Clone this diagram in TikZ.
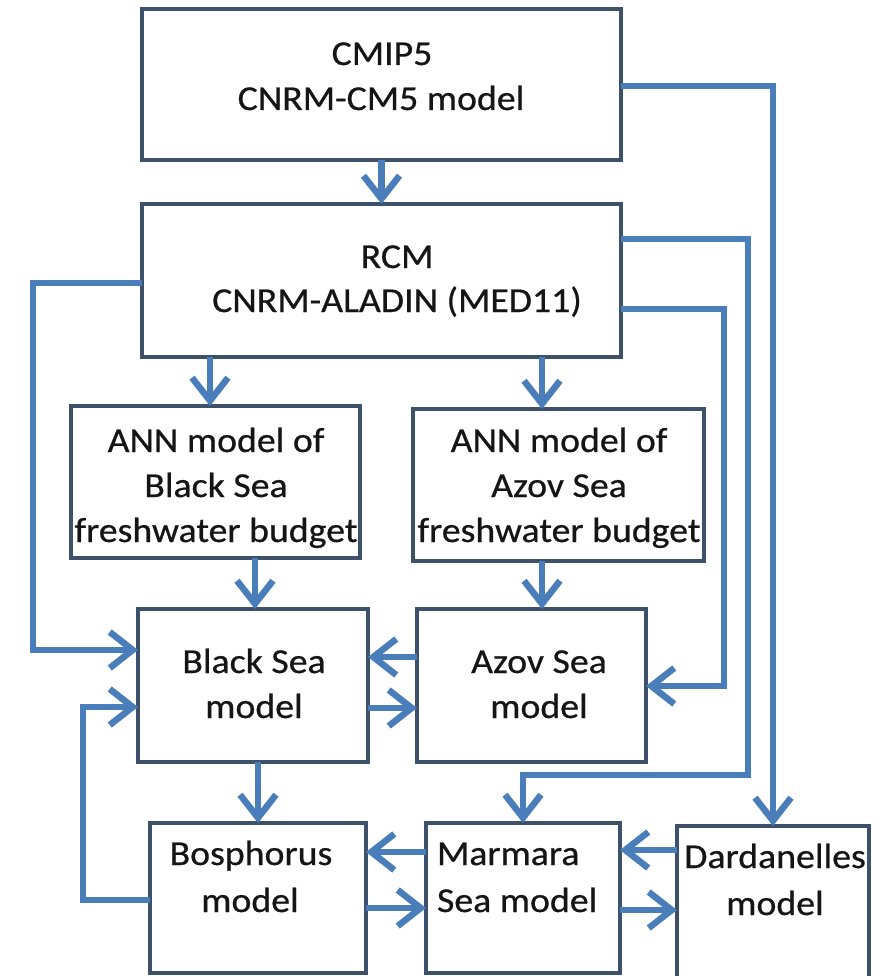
\documentclass[tikz,border=0pt]{standalone}
\usepackage{fontspec}
\setmainfont{Carlito}[FakeStretch=1.08,FakeBold=0.6]
\usetikzlibrary{arrows.meta}
\definecolor{boxline}{HTML}{3E516B}
\definecolor{arrowblue}{HTML}{4A7EBB}
\definecolor{txt}{HTML}{151515}
\begin{document}
\begin{tikzpicture}[x=1pt,y=-1pt,
  box/.style={draw=boxline, line width=4pt, fill=white, rectangle, inner sep=0pt, outer sep=0pt},
  lbl/.style={inner sep=0pt, outer sep=0pt, text=txt, font=\fontsize{35}{45}\selectfont, anchor=base},
  arr/.style={draw=arrowblue, line width=6.5pt, -{Straight Barb[length=23pt,width=36pt,line width=6.5pt]}}]
\useasboundingbox (0,0) rectangle (890,976);
\fill[white] (0,0) rectangle (890,976);
\begin{scope}
\clip (0,0) rectangle (890,976);
% boxes
\node[box, minimum width=479pt, minimum height=151pt] (cmip) at (381.5,84.5) {};
\node[box, minimum width=479pt, minimum height=153pt] (rcm) at (381.5,280.5) {};
\node[box, minimum width=289pt, minimum height=152pt] (anb) at (215.5,482) {};
\node[box, minimum width=291pt, minimum height=152pt] (ana) at (558.5,485) {};
\node[box, minimum width=230pt, minimum height=153pt] (bsm) at (253,685.5) {};
\node[box, minimum width=229pt, minimum height=153pt] (azm) at (531.5,685.5) {};
\node[box, minimum width=216pt, minimum height=150pt] (bos) at (258,898) {};
\node[box, minimum width=194pt, minimum height=150pt] (mar) at (523,898) {};
\node[box, minimum width=192pt, minimum height=170pt] (dar) at (773,911) {};
% texts
\node[lbl] (t1a) at (382,65) {CMIP5};
\node[lbl] (t1b) at (381,110) {CNRM-CM5 model};
\node[lbl] (t2a) at (397,268) {RCM};
\node[lbl] (t2b) at (397,312) {CNRM-ALADIN (MED11)};
\node[lbl] (t3a) at (216,452) {ANN model of};
\node[lbl] (t3b) at (216,497) {Black Sea};
\node[lbl] (t3c) at (216,542) {freshwater budget};
\node[lbl] (t4a) at (559,452) {ANN model of};
\node[lbl] (t4b) at (559,497) {Azov Sea};
\node[lbl] (t4c) at (559,542) {freshwater budget};
\node[lbl] (t5a) at (254,673) {Black Sea};
\node[lbl] (t5b) at (254,718) {model};
\node[lbl] (t6a) at (539,673) {Azov Sea};
\node[lbl] (t6b) at (539,718) {model};
\node[lbl] (t7a) at (251,865) {Bosphorus};
\node[lbl] (t7b) at (250,912) {model};
\node[lbl, anchor=base west] (t8a) at (437,865) {Marmara};
\node[lbl, anchor=base west] (t8b) at (437,912) {Sea model};
\node[lbl] (t9a) at (775,868) {Dardanelles};
\node[lbl] (t9b) at (775,915) {model};
% turning points
\coordinate (k1) at (748,775);
\coordinate (k2) at (724,686);
\coordinate (k3) at (33,650);
\coordinate (k4) at (83,707);
% connectors
\draw[arr] (cmip.south) -- (rcm.north);
\draw[arr] (cmip.east |- 0,86) -| (dar.north);
\draw[arr] (rcm.east |- 0,239) -| (k1) -| (mar.north);
\draw[arr] (rcm.east |- 0,309) -| (k2) -- (azm.east |- k2);
\draw[arr] (rcm.west |- 0,283) -| (k3) -- (bsm.west |- k3);
\draw[arr] (210,0 |- rcm.south) -- (210,0 |- anb.north);
\draw[arr] (542,0 |- rcm.south) -- (542,0 |- ana.north);
\draw[arr] (255,0 |- anb.south) -- (255,0 |- bsm.north);
\draw[arr] (542,0 |- ana.south) -- (542,0 |- azm.north);
\draw[arr] (azm.west |- 0,657) -- (bsm.east |- 0,657);
\draw[arr] (bsm.east |- 0,708) -- (azm.west |- 0,708);
\draw[arr] (bos.north |- bsm.south) -- (bos.north);
\draw[arr] (bos.west |- 0,900) -| (k4) -- (bsm.west |- k4);
\draw[arr] (mar.west |- 0,852) -- (bos.east |- 0,852);
\draw[arr] (bos.east |- 0,908) -- (mar.west |- 0,908);
\draw[arr] (dar.west |- 0,850) -- (mar.east |- 0,850);
\draw[arr] (mar.east |- 0,910) -- (dar.west |- 0,910);
\end{scope}
\end{tikzpicture}
\end{document}
